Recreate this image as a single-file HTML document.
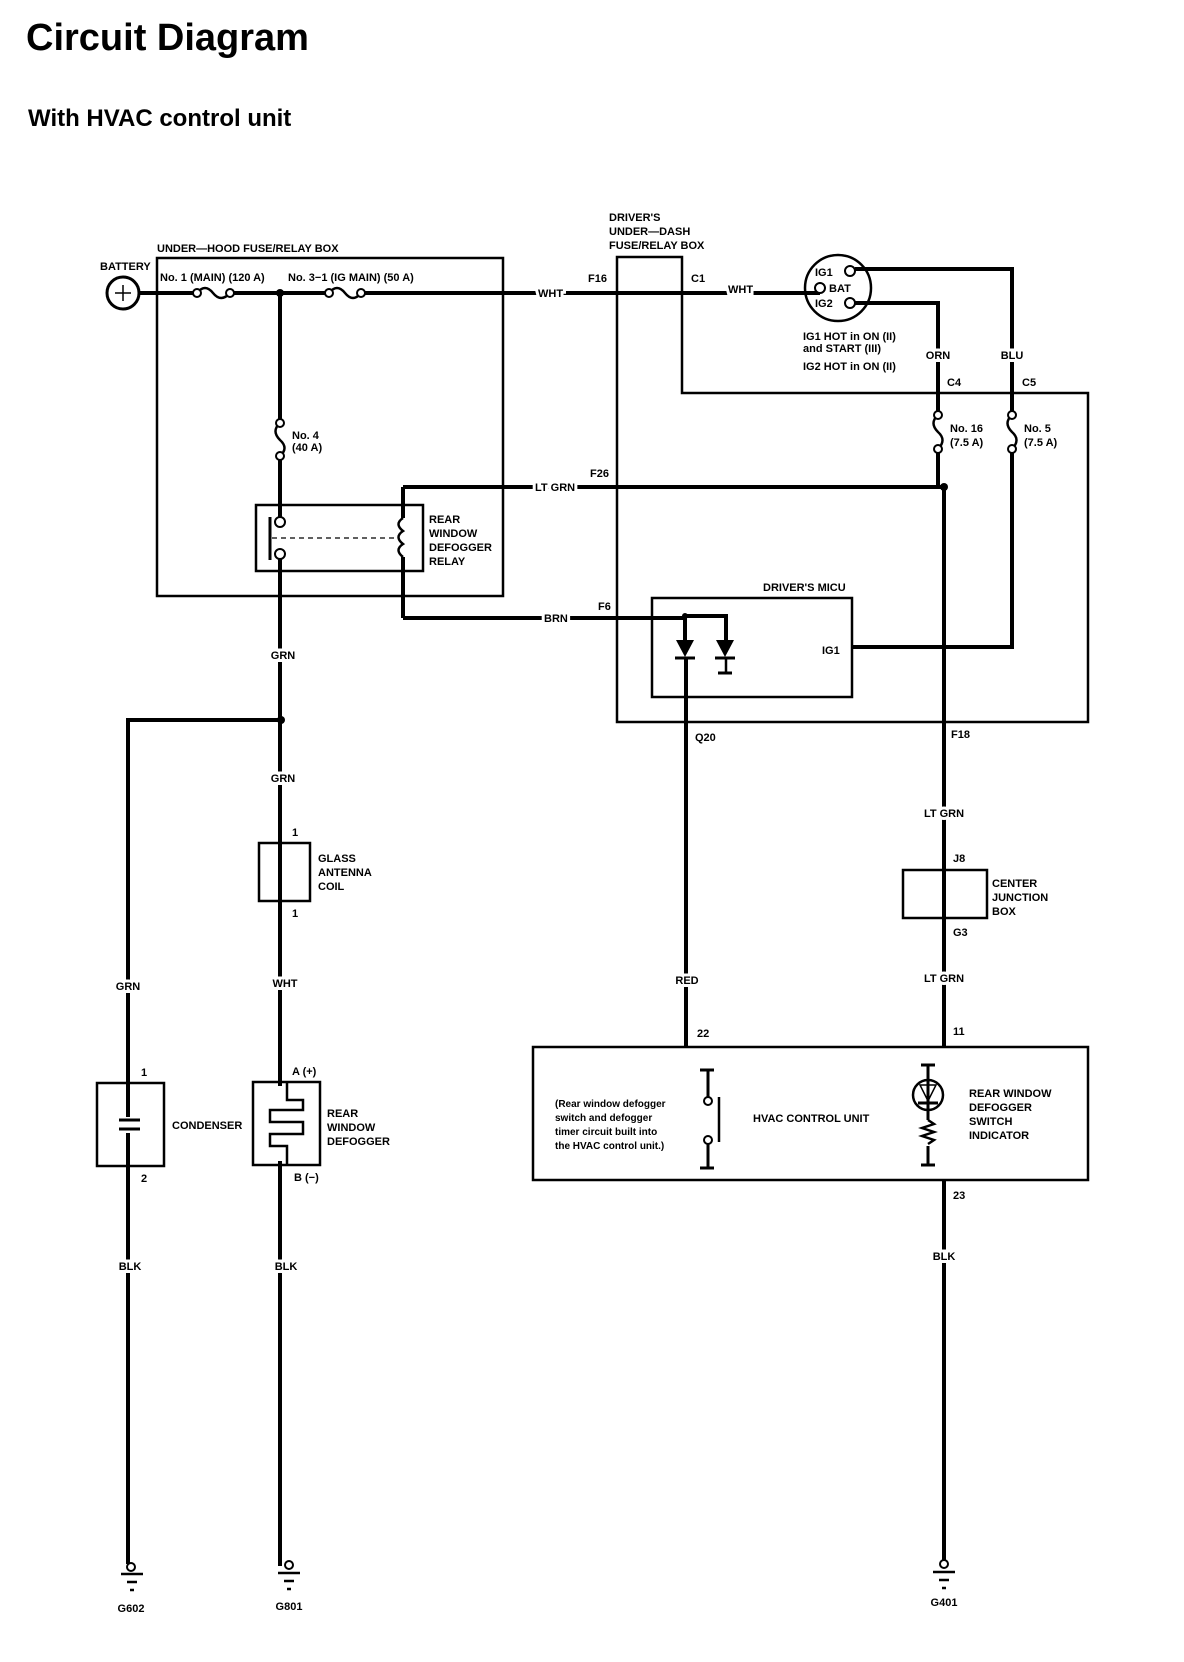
<!DOCTYPE html>
<html><head><meta charset="utf-8"><style>
html,body{margin:0;padding:0;background:#fff;}
svg{display:block}
.t{font-family:"Liberation Sans Narrow","Liberation Sans",sans-serif;font-weight:bold;font-size:11px;fill:#000;}
.h{paint-order:stroke;stroke:#fff;stroke-width:6px;}
.w{stroke:#000;stroke-width:4;fill:none;}
.b{stroke:#000;stroke-width:2.5;fill:none;}
.c{stroke:#000;stroke-width:2;fill:#fff;}
</style></head><body>
<svg width="1184" height="1662" viewBox="0 0 1184 1662" xmlns="http://www.w3.org/2000/svg">
<text x="26" y="50" style="font-family:'Liberation Sans',sans-serif;font-weight:bold;font-size:38px">Circuit Diagram</text>
<text x="28" y="126" style="font-family:'Liberation Sans',sans-serif;font-weight:bold;font-size:24px">With HVAC control unit</text>

<!-- under-hood box -->
<rect x="157" y="258" width="346" height="338" class="b"/>
<text class="t" x="157" y="252">UNDER—HOOD FUSE/RELAY BOX</text>
<text class="t" x="100" y="270">BATTERY</text>
<circle cx="123" cy="293" r="16" class="b" style="stroke-width:3"/>
<path d="M115 293h16M123 285v16" class="b" style="stroke-width:1.5"/>
<!-- main wire -->
<path d="M139 293H197M230 293H329M361 293H820" class="w"/>
<path d="M197 293 q8-10 16 0 q8 10 17 0" class="b"/>
<path d="M329 293 q8-10 16 0 q8 10 16 0" class="b"/>
<circle cx="197" cy="293" r="4" class="c"/><circle cx="230" cy="293" r="4" class="c"/>
<circle cx="329" cy="293" r="4" class="c"/><circle cx="361" cy="293" r="4" class="c"/>
<circle cx="280" cy="293" r="4" fill="#000"/>
<text class="t" x="160" y="281">No. 1 (MAIN) (120 A)</text>
<text class="t" x="288" y="281">No. 3−1 (IG MAIN) (50 A)</text>
<text class="t h" x="538" y="297">WHT</text>
<text class="t" x="588" y="282">F16</text>
<!-- No4 fuse -->
<path d="M280 293V423M280 456V518" class="w"/>
<path d="M280 423 q-9 8 0 17 q9 8 0 16" class="b"/>
<circle cx="280" cy="423" r="4" class="c"/><circle cx="280" cy="456" r="4" class="c"/>
<text class="t" x="292" y="439">No. 4</text><text class="t" x="292" y="451">(40 A)</text>
<!-- relay -->
<rect x="256" y="505" width="167" height="66" class="b"/>
<path d="M270 517V560" class="b" style="stroke-width:3"/>
<path d="M272 538H395" class="b" style="stroke-width:1.2;stroke-dasharray:5 4"/>
<circle cx="280" cy="522" r="5" class="c"/><circle cx="280" cy="554" r="5" class="c"/>
<path d="M280 559V1566" class="w"/>
<path d="M403 487V518M403 557V618" class="w"/>
<path d="M403 518 q-9 6 0 13 q-9 6 0 13 q-9 6 0 13" class="b"/>
<text class="t" x="429" y="523">REAR</text><text class="t" x="429" y="537">WINDOW</text>
<text class="t" x="429" y="551">DEFOGGER</text><text class="t" x="429" y="565">RELAY</text>
<path d="M403 487H944" class="w"/>
<text class="t h" x="535" y="491">LT GRN</text>
<text class="t" x="590" y="477">F26</text>
<circle cx="944" cy="487" r="4" fill="#000"/>
<path d="M403 618H685V640" class="w"/>
<text class="t h" x="544" y="622">BRN</text>
<text class="t" x="598" y="610">F6</text>

<!-- under-dash box -->
<path d="M617 257H682V393H1088V722H617Z" class="b"/>
<text class="t" x="609" y="221">DRIVER'S</text><text class="t" x="609" y="235">UNDER—DASH</text>
<text class="t" x="609" y="249">FUSE/RELAY BOX</text>
<text class="t" x="691" y="282">C1</text>
<text class="t h" x="728" y="293">WHT</text>
<!-- ignition switch -->
<circle cx="838" cy="288" r="33" class="b"/>
<circle cx="850" cy="271" r="5" class="c"/><circle cx="820" cy="288" r="5" class="c"/><circle cx="850" cy="303" r="5" class="c"/>
<text class="t" x="815" y="276">IG1</text><text class="t" x="829" y="292">BAT</text><text class="t" x="815" y="307">IG2</text>
<path d="M855 269H1012V415M855 303H938V415" class="w"/>
<text class="t" x="803" y="340">IG1 HOT in ON (II)</text>
<text class="t" x="803" y="352">and START (III)</text>
<text class="t" x="803" y="370">IG2 HOT in ON (II)</text>
<text class="t h" x="938" y="359" text-anchor="middle">ORN</text>
<text class="t h" x="1012" y="359" text-anchor="middle">BLU</text>
<text class="t" x="947" y="386">C4</text><text class="t" x="1022" y="386">C5</text>
<path d="M938 415 q-9 8 0 17 q9 8 0 17M1012 415 q-9 8 0 17 q9 8 0 17" class="b"/>
<circle cx="938" cy="415" r="4" class="c"/><circle cx="938" cy="449" r="4" class="c"/>
<circle cx="1012" cy="415" r="4" class="c"/><circle cx="1012" cy="449" r="4" class="c"/>
<text class="t" x="950" y="432">No. 16</text><text class="t" x="950" y="446">(7.5 A)</text>
<text class="t" x="1024" y="432">No. 5</text><text class="t" x="1024" y="446">(7.5 A)</text>
<path d="M938 453V487L944 487V1047" class="w"/>
<path d="M1012 453V647H852" class="w"/>
<!-- MICU -->
<rect x="652" y="598" width="200" height="99" class="b"/>
<text class="t" x="763" y="591">DRIVER'S MICU</text>
<text class="t" x="822" y="654">IG1</text>
<path d="M685 616H726V640" class="w"/>
<circle cx="685" cy="616" r="3" fill="#000"/>
<path d="M676 640h18l-9 17z M716 640h18l-9 17z" fill="#000"/>
<path d="M675 658h20M715 658h20M718 673h14" class="b" style="stroke-width:3"/>
<path d="M726 657V673" class="b"/>
<path d="M686 657V1047" class="w"/>
<text class="t" x="695" y="741">Q20</text>
<text class="t" x="951" y="738">F18</text>
<text class="t h" x="944" y="817" text-anchor="middle">LT GRN</text>
<text class="t" x="953" y="862">J8</text>
<rect x="903" y="870" width="84" height="48" class="b"/>
<text class="t" x="992" y="887">CENTER</text><text class="t" x="992" y="901">JUNCTION</text><text class="t" x="992" y="915">BOX</text>
<text class="t" x="953" y="936">G3</text>
<text class="t h" x="944" y="982" text-anchor="middle">LT GRN</text>
<text class="t h" x="687" y="984" text-anchor="middle">RED</text>
<text class="t" x="697" y="1037">22</text><text class="t" x="953" y="1035">11</text>
<!-- HVAC box -->
<rect x="533" y="1047" width="555" height="133" class="b"/>
<text class="t" x="555" y="1107" style="font-size:10px">(Rear window defogger</text>
<text class="t" x="555" y="1121" style="font-size:10px">switch and defogger</text>
<text class="t" x="555" y="1135" style="font-size:10px">timer circuit built into</text>
<text class="t" x="555" y="1149" style="font-size:10px">the HVAC control unit.)</text>
<path d="M700 1070h14M708 1070V1097M708 1144V1168M700 1168h14" class="b" style="stroke-width:3"/>
<circle cx="708" cy="1101" r="4" class="c"/><circle cx="708" cy="1140" r="4" class="c"/>
<path d="M719 1097V1142" class="b"/>
<text class="t" x="753" y="1122">HVAC CONTROL UNIT</text>
<path d="M921 1065h14M928 1065V1120M928 1146V1165M921 1165h14" class="b" style="stroke-width:3"/>
<circle cx="928" cy="1095" r="15" class="b"/>
<path d="M920 1085h16l-8 16z" class="b" style="stroke-width:1.5"/>
<path d="M918 1103h20" class="b" style="stroke-width:3"/>
<path d="M928 1120l6 4l-12 4l12 4l-12 4l12 4l-6 4" class="b"/>
<text class="t" x="969" y="1097">REAR WINDOW</text><text class="t" x="969" y="1111">DEFOGGER</text>
<text class="t" x="969" y="1125">SWITCH</text><text class="t" x="969" y="1139">INDICATOR</text>
<text class="t" x="953" y="1199">23</text>
<path d="M944 1180V1564" class="w"/>
<text class="t h" x="944" y="1260" text-anchor="middle">BLK</text>

<!-- left branch -->
<circle cx="281" cy="720" r="4" fill="#000"/>
<path d="M281 720H128V1564" class="w"/>
<text class="t h" x="283" y="659" text-anchor="middle">GRN</text>
<text class="t h" x="283" y="782" text-anchor="middle">GRN</text>
<text class="t" x="292" y="836">1</text>
<rect x="259" y="843" width="51" height="58" class="b"/>
<text class="t" x="318" y="862">GLASS</text><text class="t" x="318" y="876">ANTENNA</text><text class="t" x="318" y="890">COIL</text>
<text class="t" x="292" y="917">1</text>
<text class="t h" x="285" y="987" text-anchor="middle">WHT</text>
<text class="t h" x="128" y="990" text-anchor="middle">GRN</text>
<!-- condenser -->
<rect x="97" y="1083" width="67" height="83" class="b"/>
<rect x="120" y="1117" width="18" height="16" fill="#fff"/>
<path d="M119 1120h21M119 1129h21" class="b" style="stroke-width:3"/>
<text class="t" x="141" y="1076">1</text><text class="t" x="141" y="1182">2</text>
<text class="t" x="172" y="1129">CONDENSER</text>
<!-- defogger -->
<rect x="253" y="1082" width="67" height="83" class="b"/>
<rect x="262" y="1086" width="50" height="75" fill="#fff"/>
<path d="M287 1082V1100H303V1110H270V1122H303V1134H270V1146H287V1165" class="b"/>
<text class="t" x="292" y="1075">A (+)</text><text class="t" x="294" y="1181">B (−)</text>
<text class="t" x="327" y="1117">REAR</text><text class="t" x="327" y="1131">WINDOW</text><text class="t" x="327" y="1145">DEFOGGER</text>
<text class="t h" x="130" y="1270" text-anchor="middle">BLK</text>
<text class="t h" x="286" y="1270" text-anchor="middle">BLK</text>
<!-- grounds -->
<g class="b">
<circle cx="131" cy="1567" r="4" class="c"/><path d="M121 1574h22M127 1582h10M130 1590h4"/>
<circle cx="289" cy="1565" r="4" class="c"/><path d="M278 1573h22M284 1581h10M287 1589h4"/>
<circle cx="944" cy="1564" r="4" class="c"/><path d="M933 1572h22M939 1580h10M942 1588h4"/>
</g>
<text class="t" x="131" y="1612" text-anchor="middle">G602</text>
<text class="t" x="289" y="1610" text-anchor="middle">G801</text>
<text class="t" x="944" y="1606" text-anchor="middle">G401</text>
</svg>
</body></html>
